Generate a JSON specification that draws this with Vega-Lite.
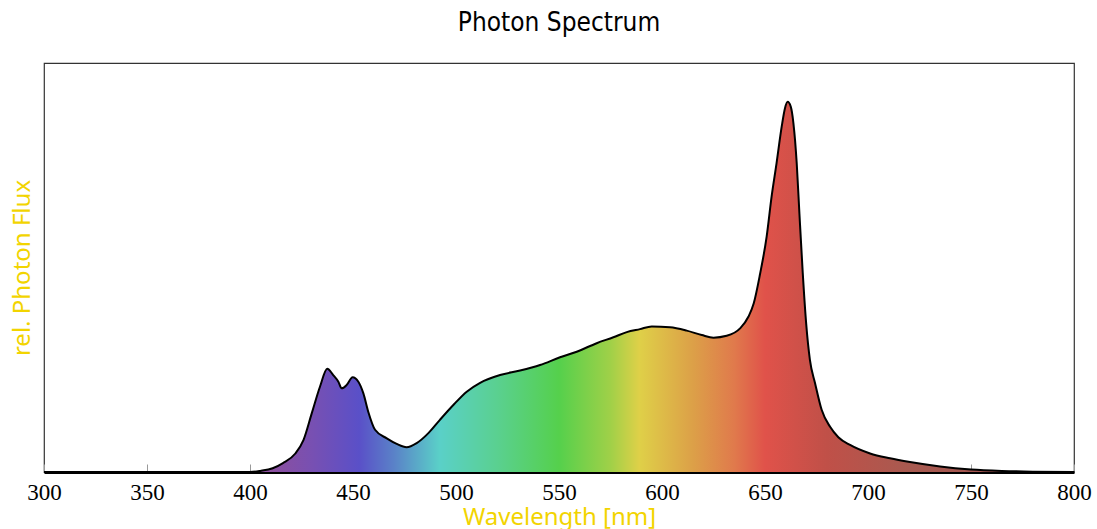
{
  "$schema": "https://vega.github.io/schema/vega-lite/v6.json",
  "width": 1030,
  "height": 409,
  "autosize": {"type": "none"},
  "padding": {"left": 44, "top": 63, "right": 23, "bottom": 57},
  "background": "white",
  "title": {"text": "Photon Spectrum", "font": "DejaVu Sans Condensed", "fontSize": 26, "fontWeight": "normal", "color": "#000000", "anchor": "middle", "offset": 27},
  "config": {"view": {"stroke": "#333333", "strokeWidth": 1.2}},
  "data": {"values": [
    {"nm": 300, "flux": 0}, {"nm": 350, "flux": 0}, {"nm": 400, "flux": 0},
    {"nm": 405, "flux": 0.003}, {"nm": 411, "flux": 0.010}, {"nm": 416, "flux": 0.024},
    {"nm": 422, "flux": 0.050}, {"nm": 426, "flux": 0.087}, {"nm": 430, "flux": 0.159},
    {"nm": 434, "flux": 0.231}, {"nm": 437.5, "flux": 0.279}, {"nm": 440.4, "flux": 0.262},
    {"nm": 442.9, "flux": 0.244}, {"nm": 444.5, "flux": 0.226}, {"nm": 446.9, "flux": 0.235},
    {"nm": 449.8, "flux": 0.256}, {"nm": 452.6, "flux": 0.244}, {"nm": 455, "flux": 0.213},
    {"nm": 457.4, "flux": 0.163}, {"nm": 460.7, "flux": 0.114}, {"nm": 466.4, "flux": 0.091},
    {"nm": 471.2, "flux": 0.076}, {"nm": 476, "flux": 0.067}, {"nm": 480.9, "flux": 0.078},
    {"nm": 486.6, "flux": 0.105}, {"nm": 492.2, "flux": 0.141}, {"nm": 498.7, "flux": 0.181},
    {"nm": 505.2, "flux": 0.217}, {"nm": 511.7, "flux": 0.241}, {"nm": 521.4, "flux": 0.262},
    {"nm": 531.1, "flux": 0.274}, {"nm": 540.8, "flux": 0.289}, {"nm": 550.5, "flux": 0.310},
    {"nm": 558.6, "flux": 0.325}, {"nm": 568.3, "flux": 0.348}, {"nm": 576.4, "flux": 0.364},
    {"nm": 582.9, "flux": 0.378}, {"nm": 589.3, "flux": 0.386}, {"nm": 595, "flux": 0.393},
    {"nm": 603.9, "flux": 0.391}, {"nm": 612, "flux": 0.382}, {"nm": 619.3, "flux": 0.370},
    {"nm": 625, "flux": 0.363}, {"nm": 631.4, "flux": 0.368}, {"nm": 637.9, "flux": 0.388},
    {"nm": 642, "flux": 0.420}, {"nm": 644.5, "flux": 0.455}, {"nm": 647.6, "flux": 0.535},
    {"nm": 650.8, "flux": 0.636}, {"nm": 653.2, "flux": 0.744}, {"nm": 655.6, "flux": 0.834},
    {"nm": 658.1, "flux": 0.933}, {"nm": 659.7, "flux": 0.983}, {"nm": 661, "flux": 1.0},
    {"nm": 662.5, "flux": 0.987}, {"nm": 663.8, "flux": 0.942}, {"nm": 665.4, "flux": 0.834},
    {"nm": 666.7, "flux": 0.699}, {"nm": 668.3, "flux": 0.540}, {"nm": 670, "flux": 0.400},
    {"nm": 671.8, "flux": 0.303}, {"nm": 674.3, "flux": 0.240}, {"nm": 677.5, "flux": 0.168},
    {"nm": 681.6, "flux": 0.122}, {"nm": 685.6, "flux": 0.094}, {"nm": 691.3, "flux": 0.073},
    {"nm": 701, "flux": 0.050}, {"nm": 710.7, "flux": 0.037}, {"nm": 720.4, "flux": 0.027},
    {"nm": 735, "flux": 0.015}, {"nm": 750, "flux": 0.007}, {"nm": 765, "flux": 0.003},
    {"nm": 780, "flux": 0.001}, {"nm": 800, "flux": 0}
  ]},
  "encoding": {
    "x": {
      "field": "nm", "type": "quantitative",
      "scale": {"domain": [300, 800], "nice": false, "zero": false},
      "axis": {
        "title": "Wavelength [nm]", "titleFont": "Noto Sans", "titleFontSize": 24, "titleFontWeight": "normal", "titleColor": "#f2d400", "titlePadding": 1,
        "values": [300, 350, 400, 450, 500, 550, 600, 650, 700, 750, 800],
        "labelFont": "Liberation Serif", "labelFontSize": 23, "labelColor": "#000000", "labelFlush": false, "labelOverlap": false, "labelPadding": 17,
        "tickSize": -8, "tickColor": "#999999", "tickWidth": 1,
        "domainColor": "#000000", "domainWidth": 3, "grid": false
      }
    },
    "y": {
      "field": "flux", "type": "quantitative",
      "scale": {"domain": [0, 1.105], "nice": false},
      "axis": {
        "title": "rel. Photon Flux", "titleFont": "Noto Sans", "titleFontSize": 24, "titleFontWeight": "normal", "titleColor": "#f2d400", "titlePadding": 10,
        "labels": false, "ticks": false, "domain": false, "grid": false
      }
    }
  },
  "layer": [
    {
      "mark": {
        "type": "area", "interpolate": "monotone",
        "color": {
          "gradient": "linear", "x1": 0, "x2": 1, "y1": 0, "y2": 0,
          "stops": [
            {"offset": 0.0, "color": "#904e98"},
            {"offset": 0.22, "color": "#8c4f9e"},
            {"offset": 0.26, "color": "#7850b2"},
            {"offset": 0.306, "color": "#5a50c8"},
            {"offset": 0.34, "color": "#5a82c8"},
            {"offset": 0.384, "color": "#5ad0c8"},
            {"offset": 0.44, "color": "#5ad090"},
            {"offset": 0.5, "color": "#55d04c"},
            {"offset": 0.55, "color": "#a0d048"},
            {"offset": 0.578, "color": "#dfd048"},
            {"offset": 0.63, "color": "#dca048"},
            {"offset": 0.67, "color": "#e07a4c"},
            {"offset": 0.7, "color": "#e0524a"},
            {"offset": 0.76, "color": "#c05048"},
            {"offset": 0.84, "color": "#a85a50"},
            {"offset": 1.0, "color": "#a05050"}
          ]
        }
      }
    },
    {
      "mark": {"type": "line", "interpolate": "monotone", "color": "#000000", "strokeWidth": 2}
    }
  ]
}
